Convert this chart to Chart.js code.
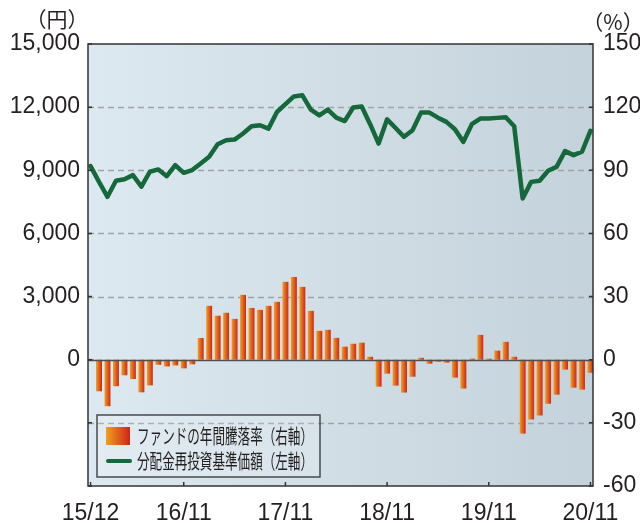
<!DOCTYPE html>
<html>
<head>
<meta charset="utf-8">
<script src="https://cdn.jsdelivr.net/npm/chart.js@4.4.0/dist/chart.umd.min.js"></script>
<style>
html, body { margin: 0; padding: 0; background: #fff; }
canvas { display: block; }
</style>
</head>
<body>
<canvas id="fundChart" width="640" height="523"></canvas>
<script>
// monthly points, 15/12 .. 20/11
var months = [
    '15/12', '16/01', '16/02', '16/03', '16/04', '16/05', '16/06', '16/07', '16/08', '16/09', '16/10', '16/11',
    '16/12', '17/01', '17/02', '17/03', '17/04', '17/05', '17/06', '17/07', '17/08', '17/09', '17/10', '17/11',
    '17/12', '18/01', '18/02', '18/03', '18/04', '18/05', '18/06', '18/07', '18/08', '18/09', '18/10', '18/11',
    '18/12', '19/01', '19/02', '19/03', '19/04', '19/05', '19/06', '19/07', '19/08', '19/09', '19/10', '19/11',
    '19/12', '20/01', '20/02', '20/03', '20/04', '20/05', '20/06', '20/07', '20/08', '20/09', '20/10', '20/11'
];
var tickLabels = ['15/12', '16/11', '17/11', '18/11', '19/11', '20/11'];

// 分配金再投資基準価額 (円, left axis)
var navValues = [
    9200, 8450, 7740, 8500, 8570, 8770, 8220, 8930, 9040, 8720, 9240, 8880,
    9010, 9320, 9640, 10240, 10430, 10460, 10750, 11090, 11140, 10980, 11770, 12140,
    12510, 12560, 11880, 11610, 11880, 11500, 11340, 11980, 12030, 11190, 10270, 11420,
    11010, 10590, 10900, 11740, 11740, 11500, 11300, 10950, 10350, 11190, 11460, 11460,
    11490, 11520, 11090, 7660, 8450, 8500, 8980, 9160, 9910, 9720, 9880, 10870
];
// ファンドの年間騰落率 (%, right axis)
var returnValues = [
    0.4, -15.0, -22.1, -12.6, -7.4, -9.2, -15.5, -12.2, -2.4, -3.2, -2.7, -4.1,
    -2.2, 10.3, 25.6, 20.9, 22.3, 19.4, 30.8, 24.6, 23.7, 25.6, 27.5, 37.0,
    39.3, 34.6, 23.2, 13.7, 14.2, 10.4, 6.2, 7.6, 8.1, 1.4, -12.8, -6.6,
    -12.3, -15.6, -8.1, 0.9, -1.9, -0.9, -1.4, -8.5, -13.7, 0.5, 11.8, 0.5,
    4.3, 8.5, 1.4, -35.1, -28.4, -26.5, -20.9, -16.6, -4.7, -13.3, -14.2, -6.2
];

var navLeft = [-6000, 15000, 3000];
var pctRight = [-60, 150, 30];

var inkColor = '#231f20';
var lineGreen = '#15683a';
var tickFont = { family: '"Liberation Sans", Arial, sans-serif', size: 23 };
var jpFont = '"Noto Sans CJK JP", sans-serif';

function barGradient(context) {
    var chart = context.chart;
    var xs = chart.scales.x;
    if (context.type !== 'data' || !xs) return '#e2641c';
    var cx = xs.getPixelForValue(context.dataIndex);
    if (!isFinite(cx)) return '#e2641c';
    var g = chart.ctx.createLinearGradient(cx - 3, 0, cx + 3, 0);
    g.addColorStop(0, '#f0a020');
    g.addColorStop(1, '#cf2418');
    return g;
}

var decor = {
    id: 'decor',
    beforeDatasetsDraw: function (chart) {
        var a = chart.chartArea, c = chart.ctx, ys = chart.scales.y;
        c.save();
        var bg = c.createLinearGradient(a.left, 0, a.right, 0);
        bg.addColorStop(0, '#dde9f0');
        bg.addColorStop(1, '#c4d2db');
        c.fillStyle = bg;
        c.fillRect(a.left, a.top, a.right - a.left, a.bottom - a.top);
        c.setLineDash([6, 4]);
        c.strokeStyle = '#9ea3a8';
        c.lineWidth = 1.5;
        ys.ticks.forEach(function (t) {
            if (t.value === 0 || t.value === ys.min || t.value === ys.max) return;
            var py = Math.round(ys.getPixelForValue(t.value)) + 0.5;
            c.beginPath();
            c.moveTo(a.left, py);
            c.lineTo(a.right, py);
            c.stroke();
        });
        c.restore();
    },
    afterDatasetDraw: function (chart, args) {
        if (args.meta.type !== 'bar') return;
        var a = chart.chartArea, c = chart.ctx;
        var py = Math.round(chart.scales.y.getPixelForValue(0)) + 0.5;
        c.save();
        c.strokeStyle = '#505050';
        c.lineWidth = 1.5;
        c.beginPath();
        c.moveTo(a.left, py);
        c.lineTo(a.right, py);
        c.stroke();
        c.restore();
    },
    afterDraw: function (chart) {
        var a = chart.chartArea, c = chart.ctx;
        var xs = chart.scales.x, ys = chart.scales.y;
        c.save();
        c.strokeStyle = '#333';
        c.lineWidth = 1.5;
        c.strokeRect(a.left, a.top, a.right - a.left, a.bottom - a.top);

        // small inward tick marks
        c.beginPath();
        ys.ticks.forEach(function (t) {
            var py = ys.getPixelForValue(t.value);
            c.moveTo(a.left, py); c.lineTo(a.left + 4, py);
            c.moveTo(a.right - 4, py); c.lineTo(a.right, py);
        });
        xs.ticks.forEach(function (t) {
            var px = xs.getPixelForValue(t.value);
            c.moveTo(px, a.bottom); c.lineTo(px, a.bottom - 4);
        });
        c.stroke();

        // units
        c.fillStyle = inkColor;
        c.font = '21px ' + jpFont;
        c.textAlign = 'center';
        c.textBaseline = 'middle';
        c.fillText('（円）', 57, 19);
        c.fillText('（%）', 613, 22);

        // legend box
        var bx = 97, by = 415, bw = 223, bh = 62;
        c.fillStyle = 'rgba(255,255,255,0.15)';
        c.fillRect(bx, by, bw, bh);
        c.strokeStyle = '#4a4a4a';
        c.lineWidth = 1.5;
        c.strokeRect(bx, by, bw, bh);

        var sw = c.createLinearGradient(106, 0, 130, 0);
        sw.addColorStop(0, '#f0a020');
        sw.addColorStop(1, '#cf2418');
        c.fillStyle = sw;
        c.fillRect(106, 427, 24, 18);

        c.strokeStyle = lineGreen;
        c.lineWidth = 4;
        c.lineCap = 'round';
        c.beginPath();
        c.moveTo(108, 461); c.lineTo(130, 461);
        c.stroke();

        var labels = chart.data.datasets.map(function (d) { return d.label; });
        var rows = [[labels[1], 436], [labels[0], 461]];
        c.fillStyle = inkColor;
        c.textAlign = 'left';
        c.font = '20px ' + jpFont;
        rows.forEach(function (r) {
            var w = c.measureText(r[0]).width;
            c.save();
            c.translate(137, r[1]);
            c.scale(176 / w, 1);
            c.fillText(r[0], 0, 0);
            c.restore();
        });
        c.restore();
    }
};

new Chart(document.getElementById('fundChart'), {
    type: 'bar',
    data: {
        datasets: [
            {
                type: 'line',
                label: '分配金再投資基準価額（左軸）',
                data: navValues.map(function (v, i) { return { x: i, y: v }; }),
                yAxisID: 'y',
                borderColor: lineGreen,
                borderWidth: 4.5,
                borderJoinStyle: 'round',
                borderCapStyle: 'round',
                pointRadius: 0,
                tension: 0,
                order: 1
            },
            {
                type: 'bar',
                label: 'ファンドの年間騰落率（右軸）',
                data: returnValues.map(function (v, i) { return { x: i, y: v }; }),
                yAxisID: 'y2',
                backgroundColor: barGradient,
                borderWidth: 0,
                categoryPercentage: 1,
                barPercentage: 0.7,
                order: 2
            }
        ]
    },
    options: {
        responsive: false,
        animation: false,
        devicePixelRatio: 1,
        layout: { padding: { top: 44, left: 0, right: 0, bottom: 0 } },
        plugins: { legend: { display: false }, tooltip: { enabled: false } },
        scales: {
            x: {
                type: 'linear',
                min: -0.3,
                max: 59.3,
                offset: false,
                grid: { display: false, drawTicks: false, offset: false },
                border: { display: false },
                afterBuildTicks: function (scale) {
                    scale.ticks = tickLabels.map(function (l) { return { value: months.indexOf(l) }; });
                },
                afterFit: function (scale) { scale.height = 37; },
                ticks: {
                    autoSkip: false,
                    maxRotation: 0,
                    padding: 14,
                    font: tickFont,
                    color: inkColor,
                    callback: function (v) { return months[v]; }
                }
            },
            y: {
                position: 'left',
                min: navLeft[0],
                max: navLeft[1],
                grid: { display: false, drawTicks: false },
                border: { display: false },
                afterFit: function (scale) { scale.width = 88; },
                ticks: {
                    stepSize: navLeft[2],
                    padding: 8,
                    font: tickFont,
                    color: inkColor,
                    callback: function (v) { return v < 0 ? '' : v.toLocaleString('en-US'); }
                }
            },
            y2: {
                position: 'right',
                min: pctRight[0],
                max: pctRight[1],
                grid: { display: false, drawTicks: false },
                border: { display: false },
                afterFit: function (scale) { scale.width = 47; },
                ticks: {
                    stepSize: pctRight[2],
                    padding: 10,
                    font: tickFont,
                    color: inkColor
                }
            }
        }
    },
    plugins: [decor]
});
</script>
</body>
</html>
